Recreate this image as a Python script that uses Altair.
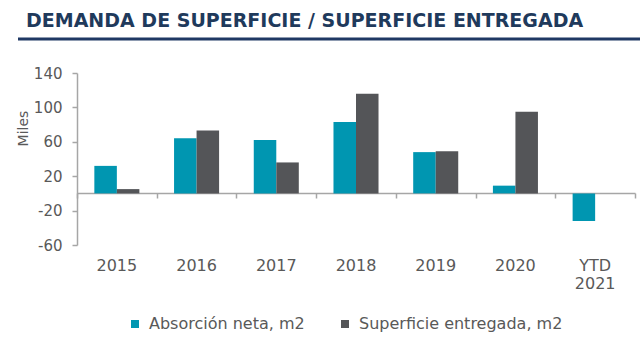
import altair as alt
import pandas as pd

years = ["2015", "2016", "2017", "2018", "2019", "2020", "YTD 2021"]
absorcion = [32, 64, 62, 83, 48, 9, -32]
entregada = [5, 73, 36, 116, 49, 95, None]
series = ["Absorción neta, m2", "Superficie entregada, m2"]
colors = ["#0096b1", "#545558"]
y_ticks = [-60, -20, 20, 60, 100, 140]
title_text = "DEMANDA DE SUPERFICIE / SUPERFICIE ENTREGADA"

rows = []
for i, yr in enumerate(years):
    rows.append({"year": yr, "serie": series[0], "value": absorcion[i]})
    rows.append({"year": yr, "serie": series[1], "value": entregada[i]})
df = pd.DataFrame(rows)

FONT = "DejaVu Sans"
TXT = "#595959"
AX = "#a6a6a6"

xscale = alt.Scale(domain=years, paddingInner=0, paddingOuter=0)

bars = alt.Chart(df).mark_bar().encode(
    x=alt.X("year:N", sort=years, scale=xscale,
            axis=alt.Axis(orient="bottom", labels=False, title=None, domain=True,
                          domainColor=AX, domainWidth=1.5, ticks=True, tickColor=AX,
                          tickWidth=1.5, tickSize=5, tickBand="extent", offset=-52)),
    xOffset=alt.XOffset("serie:N", sort=series,
                        scale=alt.Scale(paddingInner=0, paddingOuter=0.77)),
    y=alt.Y("value:Q", scale=alt.Scale(domain=[-60, 140], nice=False, zero=False),
            axis=alt.Axis(values=y_ticks, grid=False, title="Miles", domainColor=AX,
                          domainWidth=1.5, tickColor=AX, tickWidth=1.5, tickSize=5,
                          labelPadding=10, labelFont=FONT, labelFontSize=15,
                          labelExpr="'' + datum.value",
                          labelColor=TXT, titleFont=FONT, titleFontSize=14,
                          titleFontWeight="normal", titleColor=TXT, titleX=-50,
                          titleY=55, titleAlign="center", titleBaseline="alphabetic",
                          titleAngle=-90)),
    color=alt.Color("serie:N", sort=series,
                    scale=alt.Scale(domain=series, range=colors),
                    legend=alt.Legend(title=None, orient="none", direction="horizontal",
                                      legendX=50, legendY=243, symbolType="square",
                                      symbolSize=64, symbolStrokeWidth=0, labelFont=FONT,
                                      labelFontSize=16, labelColor=TXT, labelOffset=6,
                                      columnPadding=32, labelLimit=400)),
)

labels = alt.Chart(df).mark_point(opacity=0).encode(
    x=alt.X("year:N", sort=years, scale=xscale,
            axis=alt.Axis(orient="bottom", title=None, domain=False, ticks=False,
                          labelPadding=12, labelFont=FONT, labelFontSize=16,
                          labelColor=TXT, labelAngle=0,
                          labelExpr="split(datum.label, ' ')", labelLineHeight=18)),
)

one = pd.DataFrame({"t": [title_text]})
title = alt.Chart(one).mark_text(align="left", baseline="alphabetic", font=FONT,
                                 fontSize=19, fontWeight="bold", color="#1f3a5c").encode(
    x=alt.value(-51), y=alt.value(-46), text="t:N")
rule = alt.Chart(one).mark_rule(color="#1f3864", strokeWidth=3).encode(
    x=alt.value(-59), x2=alt.value(563), y=alt.value(-34))

chart = alt.layer(bars, labels, title, rule).resolve_axis(x="independent").properties(
    width=558, height=172, autosize="none",
    padding={"left": 77, "top": 73, "right": 5, "bottom": 93},
    background="white",
).configure_view(stroke=None)

chart.save("out.html", embed_options={"renderer": "svg", "actions": False})
